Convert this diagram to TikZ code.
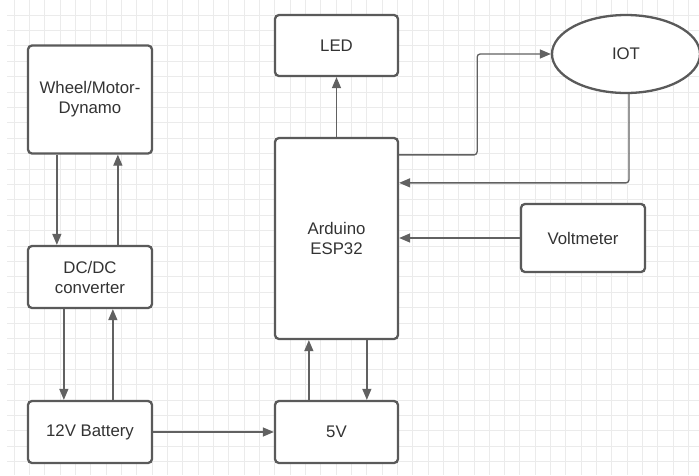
\documentclass[tikz,border=0pt]{standalone}
\usepackage{fontspec}
\setmainfont{Liberation Sans}
\usetikzlibrary{arrows.meta,shapes.geometric}
\definecolor{boxline}{HTML}{5A5A5A}
\definecolor{conn}{HTML}{616161}
\definecolor{txt}{HTML}{333333}
\definecolor{gridc}{HTML}{EBEBEB}
\begin{document}
\begin{tikzpicture}[x=1pt,y=-1pt,
  blk/.style={draw=boxline,line width=2.3pt,rounded corners=4pt,fill=white,text=txt,
    align=center,inner sep=0pt,font=\fontsize{16.8}{20}\selectfont},
  oval/.style={ellipse,draw=boxline,line width=2.3pt,fill=white,text=txt,inner sep=0pt,
    font=\fontsize{16.8}{20}\selectfont},
  arr/.style={draw=conn,line width=1.3pt,rounded corners=3pt,
    -{Triangle[length=11pt,width=9pt]}}]
\useasboundingbox (0,0) rectangle (699,475);
\fill[white] (0,0) rectangle (699,475);
% grid
\foreach \k in {0,...,44} {\draw[gridc,line width=0.8pt] ({14+15.33*\k},0) -- ({14+15.33*\k},475);}
\foreach \k in {0,...,30} {\draw[gridc,line width=0.8pt] (7,{15+15.4*\k}) -- (699,{15+15.4*\k});}
% nodes
\node[blk,minimum width=124pt,minimum height=108pt] (wheel) at (90,99.5) {Wheel/Motor-\\Dynamo};
\node[blk,minimum width=124pt,minimum height=62pt] (dcdc) at (90,277) {DC/DC\\converter};
\node[blk,minimum width=124pt,minimum height=62pt] (batt) at (90,432) {12V Battery};
\node[blk,minimum width=123pt,minimum height=62pt] (fivev) at (336.5,432) {5V};
\node[blk,minimum width=123pt,minimum height=201pt] (ard) at (336.5,238.5) {Arduino\\ESP32};
\node[blk,minimum width=123pt,minimum height=61pt] (led) at (336.5,45.5) {LED};
\node[oval,minimum width=148pt,minimum height=78pt] (iot) at (626,54) {IOT};
\node[blk,minimum width=124pt,minimum height=68pt] (volt) at (583,238) {Voltmeter};
% connectors
\draw[arr] ([xshift=30pt]wheel.south west) -- ([xshift=30pt]dcdc.north west);
\draw[arr] ([xshift=91pt]dcdc.north west) -- ([xshift=91pt]wheel.south west);
\draw[arr] ([xshift=37pt]dcdc.south west) -- ([xshift=37pt]batt.north west);
\draw[arr] ([xshift=86pt]batt.north west) -- ([xshift=86pt]dcdc.south west);
\draw[arr] (batt.east) -- (fivev.west);
\draw[arr] ([xshift=35pt]fivev.north west) -- ([xshift=35pt]ard.south west);
\draw[arr] ([xshift=93pt]ard.south west) -- ([xshift=93pt]fivev.north west);
\draw[arr] (ard.north) -- (led.south);
\draw[arr] ([yshift=-18pt]ard.north east) -- ++(78,0) |- (iot.west);
\draw[arr] ([xshift=3pt]iot.south) |- ([yshift=-46pt]ard.north east);
\draw[arr] (volt.west) -- (volt.west -| ard.east);
\end{tikzpicture}
\end{document}
